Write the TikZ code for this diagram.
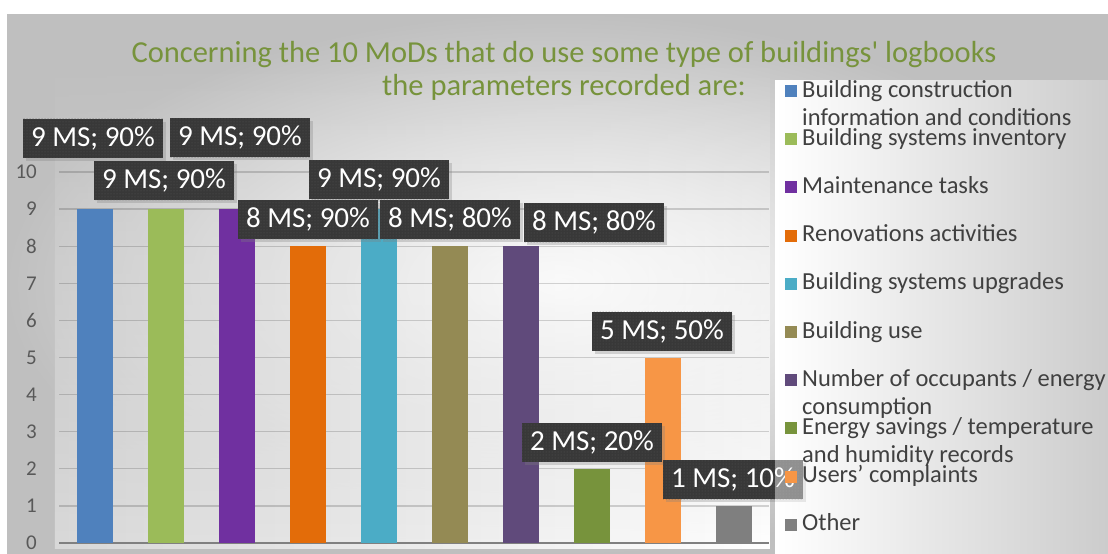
\documentclass[tikz,border=0pt]{standalone}
\usepackage{fontspec}
\setmainfont{Carlito}
\usetikzlibrary{patterns,shadows,fadings}

\definecolor{titlegreen}{HTML}{77933C}
\definecolor{labelbg}{HTML}{383838}
\definecolor{dotgray}{HTML}{555555}
\definecolor{axisgray}{HTML}{595959}
\definecolor{legendgray}{HTML}{404040}
\definecolor{cA}{HTML}{4F81BD}
\definecolor{cB}{HTML}{9BBB59}
\definecolor{cC}{HTML}{7030A0}
\definecolor{cD}{HTML}{E36C09}
\definecolor{cE}{HTML}{4BACC6}
\definecolor{cF}{HTML}{948A54}
\definecolor{cG}{HTML}{604A7B}
\definecolor{cH}{HTML}{77933C}
\definecolor{cI}{HTML}{F79646}
\definecolor{cJ}{HTML}{7F7F7F}

\begin{document}
\begin{tikzpicture}[x=1pt,y=-1pt,
    grid/.style={black,opacity=0.16,line width=1.3pt},
    ylab/.style={anchor=east,text=axisgray,font=\fontsize{21}{21}\selectfont,inner sep=0pt},
    datalabel/.style={fill=labelbg,text=white,minimum width=140pt,minimum height=39pt,inner sep=0pt,
        font=\fontsize{29}{29}\selectfont,
        drop shadow={shadow xshift=3pt,shadow yshift=-3pt,opacity=0.3},
        postaction={pattern=dots,pattern color=dotgray}},
    legtext/.style={anchor=base west,align=left,text=legendgray,inner sep=0pt,font=\fontsize{24.5}{28}\selectfont},
    legpanel/.style={left color=white,right color=gray!40}]
    \useasboundingbox (0,0) rectangle (1108,554);

    % background
    \fill[white] (0,0) rectangle (1108,554);
    \shade[inner color=white,outer color=gray!50] (7,14) rectangle (1108,554);
    \shade[left color=gray!30,right color=white,path fading=north] (55,60) rectangle (770,548);
    \draw[gray!50] (7,554) -- (7,14) -- (1108,14);

    % title
    \node[align=center,text=titlegreen,font=\fontsize{30.5}{33}\selectfont] (title) at (564,71)
        {Concerning the 10 MoDs that do use some type of buildings\textquotesingle{} logbooks\\the parameters recorded are:};

    % grid and axis
    \foreach \k in {1,...,10}
        \draw[grid] (59,{543-37.1*\k}) -- (769,{543-37.1*\k});
    \draw[gray,line width=1.3pt] (59,543) -- (769,543);
    \foreach \k in {0,...,10}
        \node[ylab] (y\k) at (37,{543-37.1*\k}) {\k};

    % bars
    \foreach \v/\c [count=\i] in {9/cA,9/cB,9/cC,8/cD,9/cE,8/cF,8/cG,2/cH,5/cI,1/cJ}
        \fill[\c] ({77+71*(\i-1)},543) rectangle ++(36,{-37.1*\v});

    % legend box
    \shade[legpanel] (775,80) rectangle (1108,554);

    % data labels
    \node[datalabel] (lab1) at (93,138) {9 MS; 90\%};
    \node[datalabel] (lab3) at (240,137.5) {9 MS; 90\%};
    \node[datalabel] (lab2) at (164,180.5) {9 MS; 90\%};
    \node[datalabel] (lab5) at (379,179.5) {9 MS; 90\%};
    \node[datalabel] (lab4) at (308,219.5) {8 MS; 90\%};
    \node[datalabel] (lab6) at (450,219.5) {8 MS; 80\%};
    \node[datalabel] (lab7) at (594,222.5) {8 MS; 80\%};
    \node[datalabel] (lab9) at (662,331) {5 MS; 50\%};
    \node[datalabel] (lab8) at (592,442.5) {2 MS; 20\%};
    \node[datalabel] (lab10) at (733,479.5) {1 MS; 10\%};

    % legend (box once more, see-through, over the last label)
    \shade[legpanel,opacity=0.45] (775,80) rectangle (1108,554);
    \foreach \t/\c/\n [count=\i] in {{Building construction\\information and conditions}/cA/1,
            Building systems inventory/cB/0, Maintenance tasks/cC/0, Renovations activities/cD/0,
            Building systems upgrades/cE/0, Building use/cF/0,
            {Number of occupants / energy\\consumption}/cG/1,
            {Energy savings / temperature\\and humidity records}/cH/1,
            Users’ complaints/cI/0, Other/cJ/0} {
        \fill[\c] (785,{97+48.2*(\i-1)}) rectangle ++(12,-12);
        \node[legtext] (leg\i) at (802,{97+48.2*(\i-1)+28*\n}) {\t};
    }
\end{tikzpicture}
\end{document}
